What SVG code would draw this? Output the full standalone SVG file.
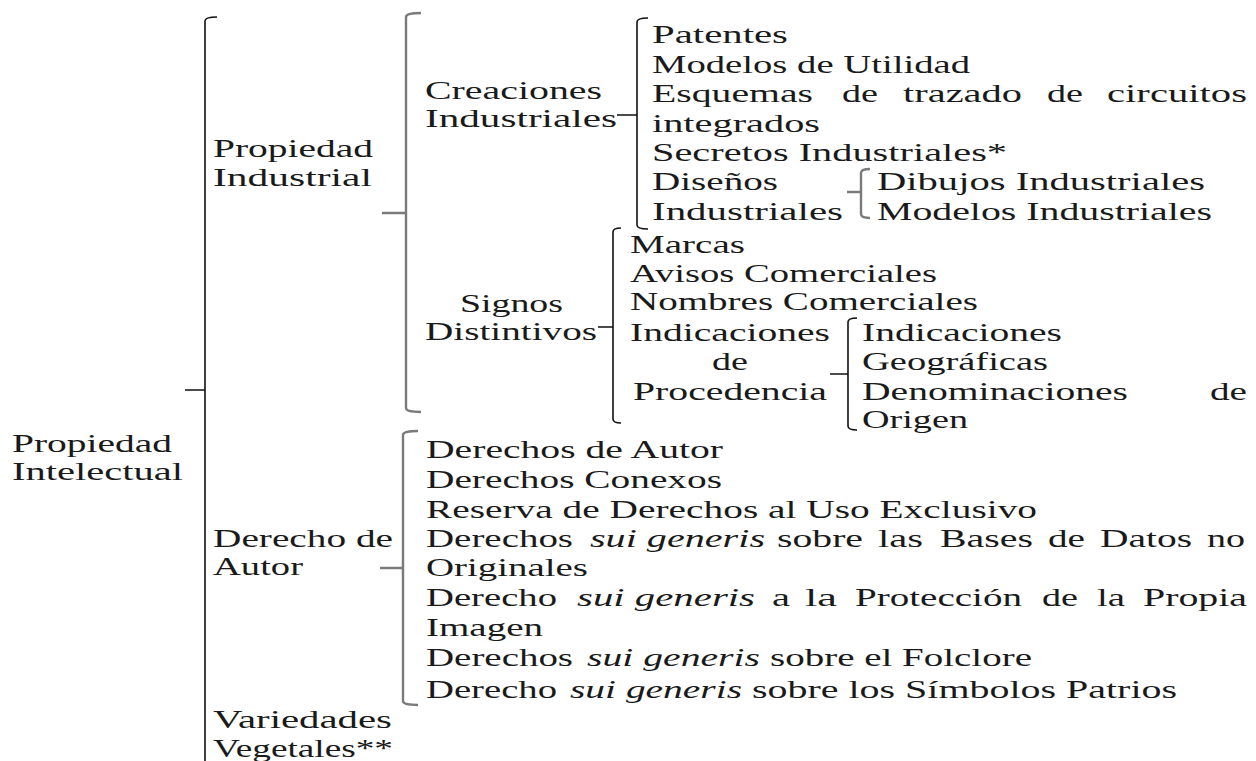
<svg xmlns="http://www.w3.org/2000/svg" width="1256" height="761" viewBox="0 0 1256 761">
<style>
.t{font-family:"Liberation Serif",serif;font-size:24.5px;fill:#1a1a1a}
.i{font-style:italic}
.br{fill:none;stroke:#111;stroke-width:1.6}
.gr{fill:none;stroke:#7a7a7a;stroke-width:2.4}
</style>
<rect width="1256" height="761" fill="#fff"/>
<g id="connectors">
<path class="br" d="M217,17 Q205,17 205,21 L205,762 M185,390 L205,390"/>
<path class="gr" d="M421,13 Q406,13 406,17 L406,408 Q406,412 421,412 M382,213 L406,213"/>
<path class="br" d="M648,18 Q637,18 637,22 L637,225 Q637,229 648,229 M617,115 L637,115"/>
<path class="gr" d="M870,169 Q861,169 861,173 L861,214 Q861,218 870,218 M847,192 L861,192"/>
<path class="br" d="M621,228 Q613,228 613,232 L613,419 Q613,423 621,423 M598,327 L613,327"/>
<path class="br" d="M857,318 Q848,318 848,322 L848,426 Q848,430 857,430 M830,374 L848,374"/>
<path class="gr" d="M418,431 Q403,431 403,435 L403,701 Q403,705 418,705 M380,568 L403,568"/>
</g>
<g id="propiedad-intelectual">
<text class="t" x="12" y="452" textLength="160" lengthAdjust="spacingAndGlyphs">Propiedad</text>
<text class="t" x="12" y="480" textLength="171" lengthAdjust="spacingAndGlyphs">Intelectual</text>
</g>
<g id="propiedad-industrial">
<text class="t" x="213" y="157" textLength="160" lengthAdjust="spacingAndGlyphs">Propiedad</text>
<text class="t" x="213" y="186" textLength="159" lengthAdjust="spacingAndGlyphs">Industrial</text>
</g>
<g id="creaciones-industriales">
<text class="t" x="425" y="99" textLength="177" lengthAdjust="spacingAndGlyphs">Creaciones</text>
<text class="t" x="425" y="127" textLength="192" lengthAdjust="spacingAndGlyphs">Industriales</text>
</g>
<g id="patentes"><text class="t" x="652" y="43" textLength="136" lengthAdjust="spacingAndGlyphs">Patentes</text></g>
<g id="modelos-utilidad"><text class="t" x="652" y="73" textLength="318" lengthAdjust="spacingAndGlyphs">Modelos de Utilidad</text></g>
<g id="esquemas">
<text class="t" x="652" y="102" textLength="161" lengthAdjust="spacingAndGlyphs">Esquemas</text>
<text class="t" x="842" y="102" textLength="36" lengthAdjust="spacingAndGlyphs">de</text>
<text class="t" x="903" y="102" textLength="119" lengthAdjust="spacingAndGlyphs">trazado</text>
<text class="t" x="1047" y="102" textLength="36" lengthAdjust="spacingAndGlyphs">de</text>
<text class="t" x="1107" y="102" textLength="140" lengthAdjust="spacingAndGlyphs">circuitos</text>
<text class="t" x="652" y="132" textLength="168" lengthAdjust="spacingAndGlyphs">integrados</text>
</g>
<g id="secretos"><text class="t" x="652" y="161" textLength="355" lengthAdjust="spacingAndGlyphs">Secretos Industriales*</text></g>
<g id="disenos-industriales">
<text class="t" x="652" y="190" textLength="126" lengthAdjust="spacingAndGlyphs">Diseños</text>
<text class="t" x="652" y="220" textLength="191" lengthAdjust="spacingAndGlyphs">Industriales</text>
</g>
<g id="dibujos"><text class="t" x="877" y="190" textLength="328" lengthAdjust="spacingAndGlyphs">Dibujos Industriales</text></g>
<g id="modelos-industriales"><text class="t" x="877" y="220" textLength="335" lengthAdjust="spacingAndGlyphs">Modelos Industriales</text></g>
<g id="signos-distintivos">
<text class="t" x="460" y="312" textLength="103" lengthAdjust="spacingAndGlyphs">Signos</text>
<text class="t" x="425" y="340" textLength="172" lengthAdjust="spacingAndGlyphs">Distintivos</text>
</g>
<g id="marcas"><text class="t" x="630" y="253" textLength="115" lengthAdjust="spacingAndGlyphs">Marcas</text></g>
<g id="avisos"><text class="t" x="630" y="282" textLength="307" lengthAdjust="spacingAndGlyphs">Avisos Comerciales</text></g>
<g id="nombres"><text class="t" x="630" y="310" textLength="348" lengthAdjust="spacingAndGlyphs">Nombres Comerciales</text></g>
<g id="indicaciones-procedencia">
<text class="t" x="630" y="341" textLength="200" lengthAdjust="spacingAndGlyphs">Indicaciones</text>
<text class="t" x="712" y="370" textLength="36" lengthAdjust="spacingAndGlyphs">de</text>
<text class="t" x="633" y="400" textLength="194" lengthAdjust="spacingAndGlyphs">Procedencia</text>
</g>
<g id="indicaciones-geograficas">
<text class="t" x="862" y="341" textLength="200" lengthAdjust="spacingAndGlyphs">Indicaciones</text>
<text class="t" x="862" y="370" textLength="186" lengthAdjust="spacingAndGlyphs">Geográficas</text>
</g>
<g id="denominaciones-origen">
<text class="t" x="862" y="400" textLength="266" lengthAdjust="spacingAndGlyphs">Denominaciones</text>
<text class="t" x="1210" y="400" textLength="37" lengthAdjust="spacingAndGlyphs">de</text>
<text class="t" x="862" y="428" textLength="106" lengthAdjust="spacingAndGlyphs">Origen</text>
</g>
<g id="derecho-de-autor">
<text class="t" x="213" y="547" textLength="180" lengthAdjust="spacingAndGlyphs">Derecho de</text>
<text class="t" x="213" y="575" textLength="90" lengthAdjust="spacingAndGlyphs">Autor</text>
</g>
<g id="derechos-autor"><text class="t" x="426" y="458" textLength="297" lengthAdjust="spacingAndGlyphs">Derechos de Autor</text></g>
<g id="derechos-conexos"><text class="t" x="426" y="488" textLength="296" lengthAdjust="spacingAndGlyphs">Derechos Conexos</text></g>
<g id="reserva"><text class="t" x="426" y="518" textLength="611" lengthAdjust="spacingAndGlyphs">Reserva de Derechos al Uso Exclusivo</text></g>
<g id="bases-datos">
<text class="t" x="426" y="547" textLength="147" lengthAdjust="spacingAndGlyphs">Derechos</text>
<text class="t i" x="590" y="547" textLength="175" lengthAdjust="spacingAndGlyphs">sui generis</text>
<text class="t" x="777" y="547" textLength="86" lengthAdjust="spacingAndGlyphs">sobre</text>
<text class="t" x="878" y="547" textLength="45" lengthAdjust="spacingAndGlyphs">las</text>
<text class="t" x="940" y="547" textLength="93" lengthAdjust="spacingAndGlyphs">Bases</text>
<text class="t" x="1048" y="547" textLength="37" lengthAdjust="spacingAndGlyphs">de</text>
<text class="t" x="1100" y="547" textLength="92" lengthAdjust="spacingAndGlyphs">Datos</text>
<text class="t" x="1207" y="547" textLength="38" lengthAdjust="spacingAndGlyphs">no</text>
<text class="t" x="426" y="576" textLength="162" lengthAdjust="spacingAndGlyphs">Originales</text>
</g>
<g id="propia-imagen">
<text class="t" x="426" y="606" textLength="131" lengthAdjust="spacingAndGlyphs">Derecho</text>
<text class="t i" x="577" y="606" textLength="178" lengthAdjust="spacingAndGlyphs">sui generis</text>
<text class="t" x="772" y="606" textLength="18" lengthAdjust="spacingAndGlyphs">a</text>
<text class="t" x="805" y="606" textLength="32" lengthAdjust="spacingAndGlyphs">la</text>
<text class="t" x="855" y="606" textLength="167" lengthAdjust="spacingAndGlyphs">Protección</text>
<text class="t" x="1042" y="606" textLength="36" lengthAdjust="spacingAndGlyphs">de</text>
<text class="t" x="1097" y="606" textLength="28" lengthAdjust="spacingAndGlyphs">la</text>
<text class="t" x="1143" y="606" textLength="104" lengthAdjust="spacingAndGlyphs">Propia</text>
<text class="t" x="426" y="636" textLength="117" lengthAdjust="spacingAndGlyphs">Imagen</text>
</g>
<g id="folclore">
<text class="t" x="426" y="666" textLength="147" lengthAdjust="spacingAndGlyphs">Derechos</text>
<text class="t i" x="587" y="666" textLength="173" lengthAdjust="spacingAndGlyphs">sui generis</text>
<text class="t" x="770" y="666" textLength="262" lengthAdjust="spacingAndGlyphs">sobre el Folclore</text>
</g>
<g id="simbolos-patrios">
<text class="t" x="426" y="698" textLength="131" lengthAdjust="spacingAndGlyphs">Derecho</text>
<text class="t i" x="570" y="698" textLength="172" lengthAdjust="spacingAndGlyphs">sui generis</text>
<text class="t" x="752" y="698" textLength="425" lengthAdjust="spacingAndGlyphs">sobre los Símbolos Patrios</text>
</g>
<g id="variedades-vegetales">
<text class="t" x="213" y="728" textLength="179" lengthAdjust="spacingAndGlyphs">Variedades</text>
<text class="t" x="213" y="757" textLength="180" lengthAdjust="spacingAndGlyphs">Vegetales**</text>
</g>
</svg>
